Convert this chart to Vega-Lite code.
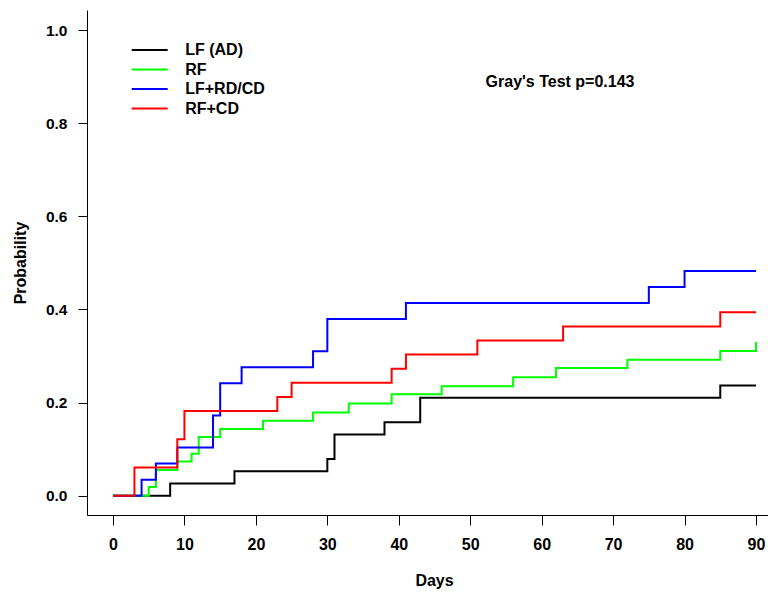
{
  "$schema": "https://vega.github.io/schema/vega-lite/v6.json",
  "width": 681,
  "height": 505,
  "autosize": {"type": "none"},
  "padding": {"left": 87, "top": 10, "right": 0, "bottom": 77},
  "background": "white",
  "config": {
    "view": {"stroke": null},
    "font": "Liberation Sans"
  },
  "layer": [
    {
      "data": {
        "values": [
          {"group": "LF (AD)", "day": 0, "prob": 0},
          {"group": "LF (AD)", "day": 8, "prob": 0.0263},
          {"group": "LF (AD)", "day": 17, "prob": 0.0526},
          {"group": "LF (AD)", "day": 30, "prob": 0.0789},
          {"group": "LF (AD)", "day": 31, "prob": 0.1316},
          {"group": "LF (AD)", "day": 38, "prob": 0.1579},
          {"group": "LF (AD)", "day": 43, "prob": 0.2105},
          {"group": "LF (AD)", "day": 85, "prob": 0.2368},
          {"group": "LF (AD)", "day": 90, "prob": 0.2368},
          {"group": "RF", "day": 0, "prob": 0},
          {"group": "RF", "day": 5, "prob": 0.0185},
          {"group": "RF", "day": 6, "prob": 0.0553},
          {"group": "RF", "day": 9, "prob": 0.0735},
          {"group": "RF", "day": 11, "prob": 0.090},
          {"group": "RF", "day": 12, "prob": 0.126},
          {"group": "RF", "day": 15, "prob": 0.1434},
          {"group": "RF", "day": 21, "prob": 0.161},
          {"group": "RF", "day": 28, "prob": 0.1785},
          {"group": "RF", "day": 33, "prob": 0.198},
          {"group": "RF", "day": 39, "prob": 0.218},
          {"group": "RF", "day": 46, "prob": 0.235},
          {"group": "RF", "day": 56, "prob": 0.2545},
          {"group": "RF", "day": 62, "prob": 0.2745},
          {"group": "RF", "day": 72, "prob": 0.292},
          {"group": "RF", "day": 85, "prob": 0.311},
          {"group": "RF", "day": 90, "prob": 0.33},
          {"group": "LF+RD/CD", "day": 0, "prob": 0},
          {"group": "LF+RD/CD", "day": 4, "prob": 0.0345},
          {"group": "LF+RD/CD", "day": 6, "prob": 0.069},
          {"group": "LF+RD/CD", "day": 9, "prob": 0.1034},
          {"group": "LF+RD/CD", "day": 14, "prob": 0.1724},
          {"group": "LF+RD/CD", "day": 15, "prob": 0.2414},
          {"group": "LF+RD/CD", "day": 18, "prob": 0.2759},
          {"group": "LF+RD/CD", "day": 28, "prob": 0.3103},
          {"group": "LF+RD/CD", "day": 30, "prob": 0.3793},
          {"group": "LF+RD/CD", "day": 41, "prob": 0.4138},
          {"group": "LF+RD/CD", "day": 75, "prob": 0.4483},
          {"group": "LF+RD/CD", "day": 80, "prob": 0.4828},
          {"group": "LF+RD/CD", "day": 90, "prob": 0.4828},
          {"group": "RF+CD", "day": 0, "prob": 0},
          {"group": "RF+CD", "day": 3, "prob": 0.0606},
          {"group": "RF+CD", "day": 9, "prob": 0.1212},
          {"group": "RF+CD", "day": 10, "prob": 0.1818},
          {"group": "RF+CD", "day": 23, "prob": 0.2121},
          {"group": "RF+CD", "day": 25, "prob": 0.2424},
          {"group": "RF+CD", "day": 39, "prob": 0.2727},
          {"group": "RF+CD", "day": 41, "prob": 0.3030},
          {"group": "RF+CD", "day": 51, "prob": 0.3333},
          {"group": "RF+CD", "day": 63, "prob": 0.3636},
          {"group": "RF+CD", "day": 85, "prob": 0.3939},
          {"group": "RF+CD", "day": 90, "prob": 0.3939}
        ]
      },
      "mark": {"type": "line", "interpolate": "step-after", "strokeWidth": 2},
      "encoding": {
        "x": {
          "field": "day", "type": "quantitative",
          "scale": {"domain": [-3.64, 91.68], "nice": false, "zero": false},
          "axis": {
            "values": [0, 10, 20, 30, 40, 50, 60, 70, 80, 90],
            "grid": false,
            "domainColor": "#000000", "domainWidth": 1,
            "tickColor": "#000000", "tickSize": 10, "tickWidth": 1,
            "labelFont": "Liberation Sans", "labelFontSize": 16, "labelFontWeight": "bold", "labelColor": "#000000",
            "labelPadding": 11, "labelFlush": false, "labelOverlap": false,
            "title": "Days",
            "titleFont": "Liberation Sans", "titleFontSize": 16, "titleFontWeight": "bold", "titleColor": "#000000",
            "titleX": 347, "titleY": 65, "titleAlign": "center", "titleBaseline": "middle", "titleAnchor": null
          }
        },
        "y": {
          "field": "prob", "type": "quantitative",
          "scale": {"domain": [-0.0414, 1.043], "nice": false, "zero": false},
          "axis": {
            "values": [0, 0.2, 0.4, 0.6, 0.8, 1.0],
            "format": ".1f",
            "grid": false,
            "domainColor": "#000000", "domainWidth": 1,
            "tickColor": "#000000", "tickSize": 9, "tickWidth": 1,
            "labelFont": "Liberation Sans", "labelFontSize": 15.5, "labelFontWeight": "bold", "labelColor": "#000000",
            "labelPadding": 11, "labelAngle": 0, "labelFlush": false, "labelOverlap": false,
            "title": "Probability",
            "titleFont": "Liberation Sans", "titleFontSize": 16, "titleFontWeight": "bold", "titleColor": "#000000",
            "titleX": -67, "titleY": 252.5, "titleAngle": -90, "titleAlign": "center", "titleBaseline": "middle", "titleAnchor": null
          }
        },
        "color": {
          "field": "group", "type": "nominal",
          "scale": {
            "domain": ["LF (AD)", "RF", "LF+RD/CD", "RF+CD"],
            "range": ["#000000", "#00ff00", "#0000ff", "#ff0000"]
          },
          "legend": {
            "title": null,
            "orient": "none",
            "legendX": 54.7,
            "legendY": 32,
            "symbolType": "M-4,0H4",
            "symbolSize": 81,
            "symbolStrokeWidth": 2,
            "labelFont": "Liberation Sans",
            "labelFontSize": 16,
            "labelFontWeight": "bold",
            "labelColor": "#000000",
            "labelOffset": 27.5,
            "rowPadding": 3.5,
            "padding": 0
          }
        }
      }
    },
    {
      "data": {"values": [{"label": "Gray's Test p=0.143"}]},
      "mark": {"type": "text", "font": "Liberation Sans", "fontSize": 16, "fontWeight": "bold", "color": "#000000", "align": "center", "baseline": "middle"},
      "encoding": {
        "x": {"datum": 62.57, "type": "quantitative"},
        "y": {"datum": 0.888, "type": "quantitative"},
        "text": {"field": "label", "type": "nominal"}
      }
    }
  ]
}
